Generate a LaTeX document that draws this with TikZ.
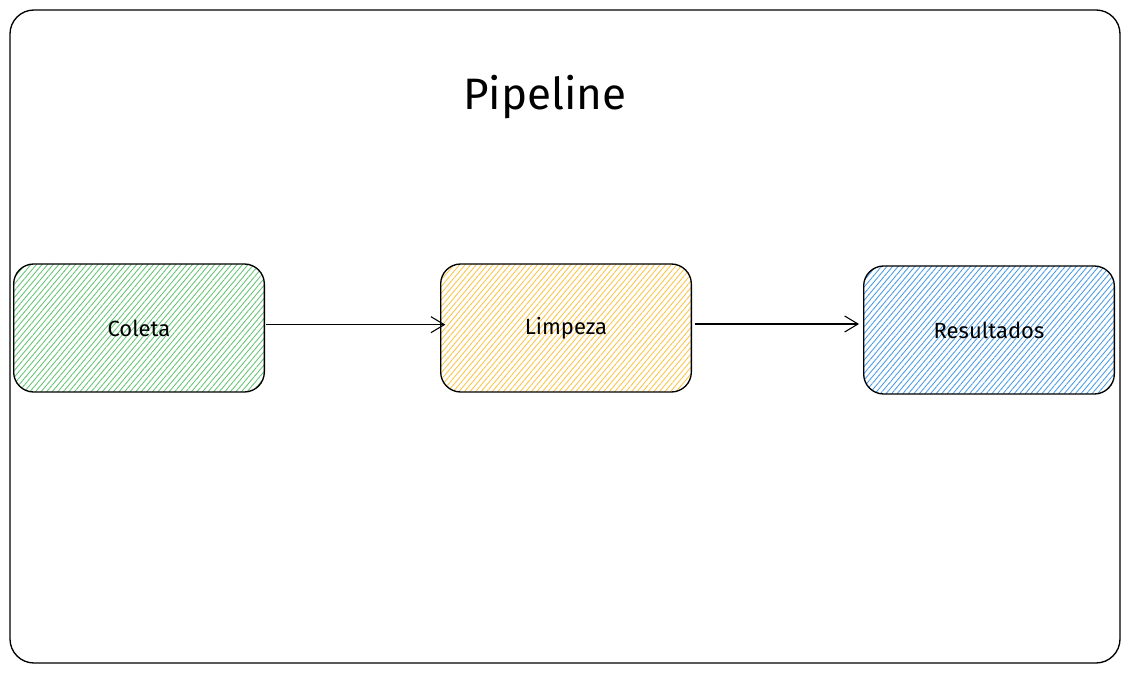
\documentclass[tikz,border=0pt]{standalone}
\usepackage{fontspec}
\setmainfont{Fira Sans}
\usepackage{xcolor}
\usetikzlibrary{arrows.meta, patterns.meta, positioning}
\definecolor{hachgreen}{RGB}{100,196,116}
\definecolor{hachyellow}{RGB}{250,196,72}
\definecolor{hachblue}{RGB}{74,154,230}
\tikzset{
  framebox/.style={
    draw, rounded corners=18pt, line width=1pt
  },
  stagebox/.style={
    draw, rounded corners=15pt, line width=1pt, align=center,
    minimum height=96pt, minimum width=188pt,
    font=\fontsize{16.5}{19}\selectfont, inner sep=0pt
  },
  flowarrow/.style={-{Straight Barb[length=10pt, width=12pt]}, line width=0.8pt},
  titlelabel/.style={font=\fontsize{33}{38}\selectfont},
}

\begin{document}
\begin{tikzpicture}[x=0.75pt, y=-0.75pt]
  \useasboundingbox (0,0) rectangle (1132,673);

  % Frame
  \draw[framebox] (10,10) rectangle (1120,663);
  \node[titlelabel] (title) at (545,97) {Pipeline};

  % Stages
  \node[stagebox, pattern={Lines[angle=50, distance=3.2pt, line width=0.65pt]}, pattern color=hachgreen] (coleta) at (139,328) {Coleta};
  \node[stagebox, pattern={Lines[angle=50, distance=3.2pt, line width=0.65pt]}, pattern color=hachyellow] (limpeza) at (566,328) {Limpeza};
  \node[stagebox, pattern={Lines[angle=50, distance=3.2pt, line width=0.65pt]}, pattern color=hachblue] (result) at (989,330) {Resultados};

  % Arrows
  \draw[flowarrow] (coleta.east) ++(1pt,2.5pt) coordinate (c1) -- ([xshift=4pt]c1 -| limpeza.west);
  \draw[flowarrow] (limpeza.east) ++(2pt,3pt) coordinate (l1) -- ([xshift=-3pt]l1 -| result.west);
\end{tikzpicture}
\end{document}
